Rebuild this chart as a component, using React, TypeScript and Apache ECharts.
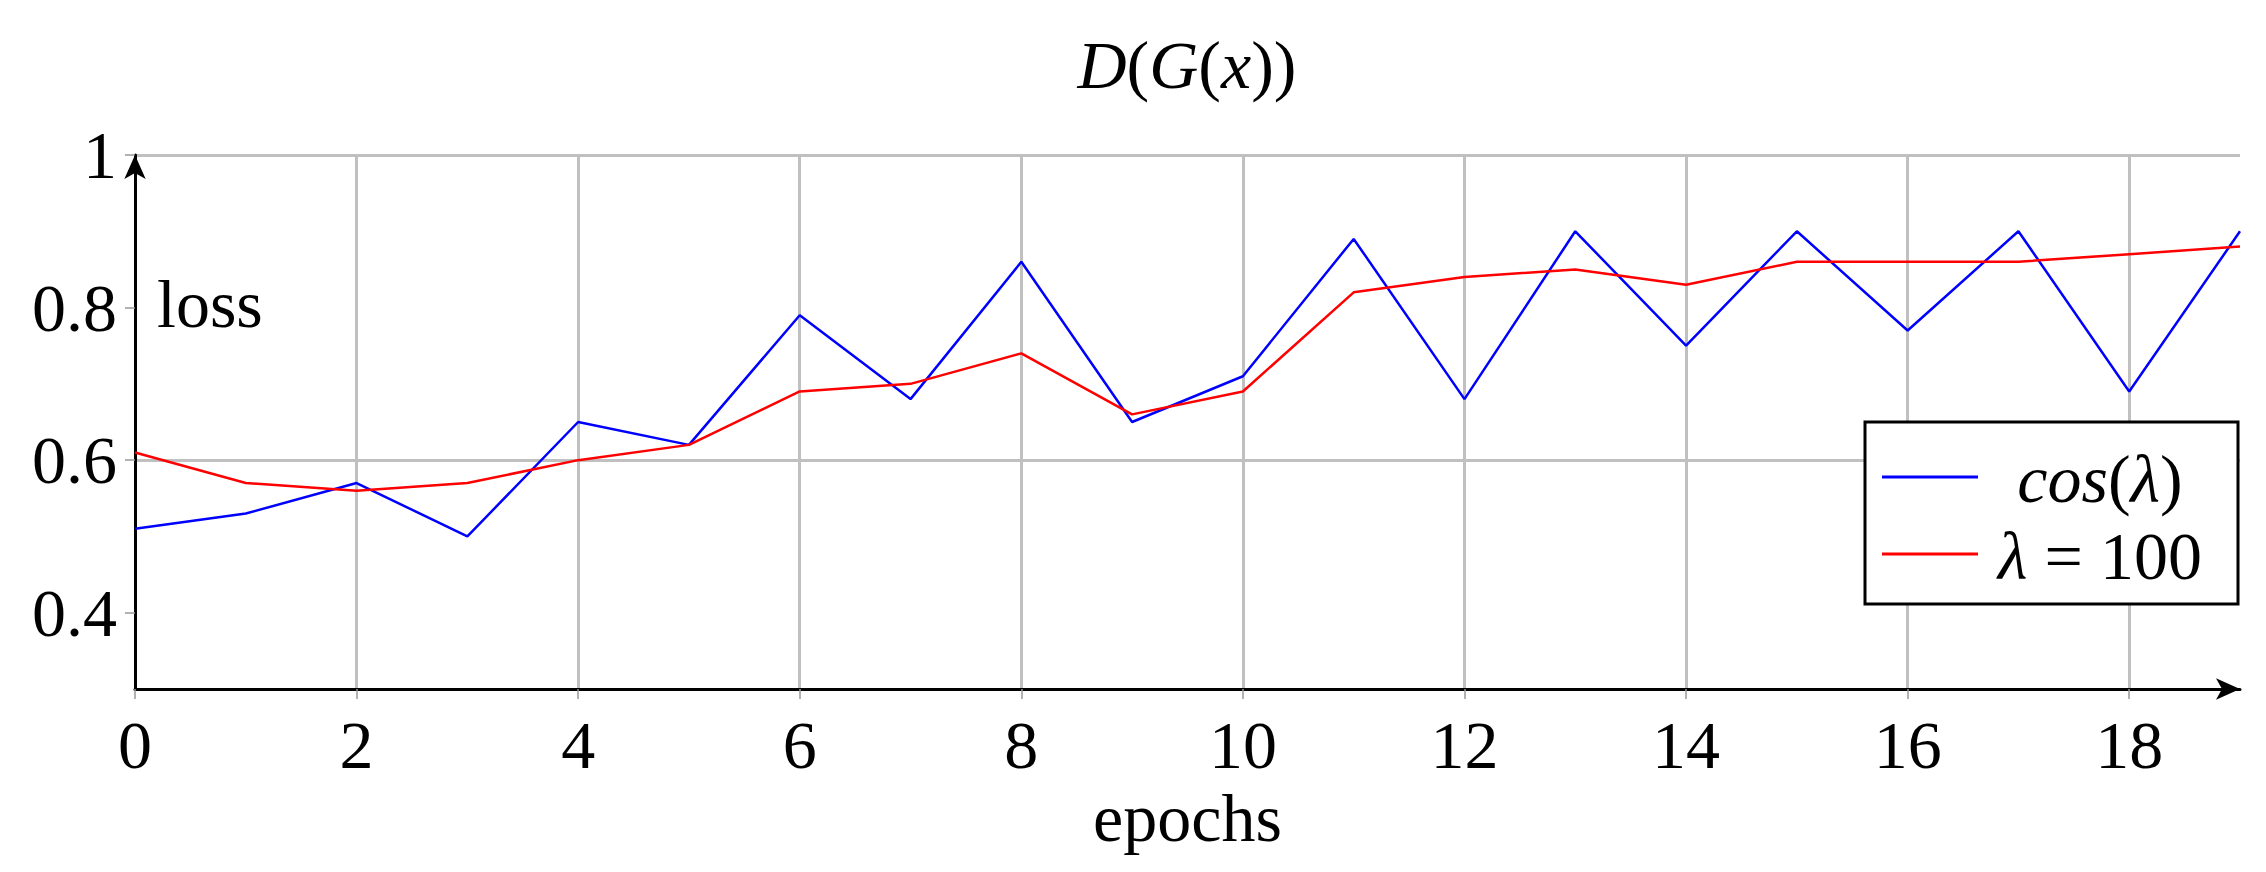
import React, { useEffect, useRef } from "react";
import * as echarts from "echarts";

const epochs = ["0","1","2","3","4","5","6","7","8","9","10","11","12","13","14","15","16","17","18","19"];
const cosLambda = [0.51,0.53,0.57,0.50,0.65,0.62,0.79,0.68,0.86,0.65,0.71,0.89,0.68,0.90,0.75,0.90,0.77,0.90,0.69,0.90];
const lambda100 = [0.61,0.57,0.56,0.57,0.60,0.62,0.69,0.70,0.74,0.66,0.69,0.82,0.84,0.85,0.83,0.86,0.86,0.86,0.87,0.88];
const yTicks = [0.4, 0.6, 0.8, 1];
const seriesNames = ["cos(λ)", "λ = 100"];
const seriesColors = ["#0000ff", "#ff0000"];
// [text, italic]
const titlePieces: [string, boolean][] = [["D", true], ["(", false], ["G", true], ["(", false], ["x", true], ["))", false]];
const legendPieces: [string, boolean][][] = [
  [["cos", true], ["(", false], ["λ", true], [")", false]],
  [["λ", true], [" = 100", false]],
];

const FONT = "Liberation Serif";
const FS = 68;

const BOX = { x: 1865, y: 422, w: 373, h: 182 };
const LINE_X = [1882, 1978];
const ROW_Y = [477, 554];
const TEXT_CX = 2100;

export default function App() {
  const ref = useRef<HTMLDivElement>(null);
  useEffect(() => {
    if (!ref.current) return;
    const chart = echarts.init(ref.current, null, { renderer: "svg" });
    const ctx = document.createElement("canvas").getContext("2d") as CanvasRenderingContext2D;
    const measure = (t: string, italic: boolean) => {
      ctx.font = `${italic ? "italic " : ""}${FS}px "${FONT}"`;
      return ctx.measureText(t).width;
    };
    const mathText = (pieces: [string, boolean][], cx: number, cy: number, z: number) => {
      const widths = pieces.map(([t, i]) => measure(t, i));
      const total = widths.reduce((a, b) => a + b, 0);
      let x = cx - total / 2;
      return pieces.map(([t, i], k) => {
        const el: any = {
          type: "text",
          x,
          y: cy,
          z,
          style: {
            text: t,
            fontFamily: FONT,
            fontSize: FS,
            fill: "#000",
            align: "left",
            verticalAlign: "middle",
          },
        };
        if (i) el.style.fontStyle = "italic";
        x += widths[k];
        return el;
      });
    };

    chart.setOption({
      animation: false,
      backgroundColor: "#fff",
      graphic: [
        ...mathText(titlePieces, 1187, 65, 10),
        {
          type: "text",
          left: 157,
          top: 308 - 38,
          style: { text: "loss", fontFamily: FONT, fontSize: FS, fill: "#000" },
          z: 10,
        },
        {
          type: "rect",
          z: 50,
          shape: { x: BOX.x, y: BOX.y, width: BOX.w, height: BOX.h },
          style: { fill: "#fff", stroke: "#000", lineWidth: 3 },
        },
        ...seriesColors.map((c, i) => ({
          type: "line",
          z: 51,
          shape: { x1: LINE_X[0], y1: ROW_Y[i], x2: LINE_X[1], y2: ROW_Y[i] },
          style: { stroke: c, lineWidth: 3 },
        })),
        ...legendPieces.flatMap((p, i) => mathText(p, TEXT_CX, ROW_Y[i] + 2, 52)),
      ],
      grid: { left: 135, right: 26, top: 155, bottom: 183, containLabel: false },
      xAxis: {
        type: "category",
        data: epochs,
        boundaryGap: false,
        name: "epochs",
        nameLocation: "middle",
        nameGap: 92,
        nameTextStyle: { fontFamily: FONT, fontSize: FS, color: "#000" },
        axisLine: {
          show: true,
          lineStyle: { color: "#000", width: 3 },
          symbol: ["none", "arrow"],
          symbolSize: [16, 24],
        },
        axisTick: { show: true, interval: 1, length: 10, lineStyle: { color: "#999", width: 1.5 } },
        axisLabel: { interval: 1, fontFamily: FONT, fontSize: FS, color: "#000", margin: 22 },
        splitLine: { show: true, interval: 1, lineStyle: { color: "#c0c0c0", width: 3 } },
      },
      yAxis: {
        type: "value",
        min: 0.3,
        max: 1,
        interval: 0.1,
        axisLine: {
          show: true,
          lineStyle: { color: "#000", width: 3 },
          symbol: ["none", "arrow"],
          symbolSize: [16, 24],
        },
        axisTick: { show: true, customValues: yTicks, length: 10, lineStyle: { color: "#999", width: 1.5 } },
        axisLabel: {
          customValues: yTicks,
          formatter: (v: number) => String(Math.round(v * 10) / 10),
          fontFamily: FONT,
          fontSize: FS,
          color: "#000",
          margin: 18,
        },
        splitLine: { show: true, lineStyle: { color: ["rgba(0,0,0,0)", "#c0c0c0"], width: 3 } },
      },
      series: [
        {
          name: seriesNames[0],
          type: "line",
          data: cosLambda,
          symbol: "none",
          lineStyle: { color: seriesColors[0], width: 2.5 },
          itemStyle: { color: seriesColors[0] },
          z: 3,
        },
        {
          name: seriesNames[1],
          type: "line",
          data: lambda100,
          symbol: "none",
          lineStyle: { color: seriesColors[1], width: 2.5 },
          itemStyle: { color: seriesColors[1] },
          z: 3,
        },
      ],
    });
    return () => chart.dispose();
  }, []);
  return (
    <div
      ref={ref}
      style={{ position: "absolute", left: 0, top: 0, width: 2266, height: 872 }}
    />
  );
}
